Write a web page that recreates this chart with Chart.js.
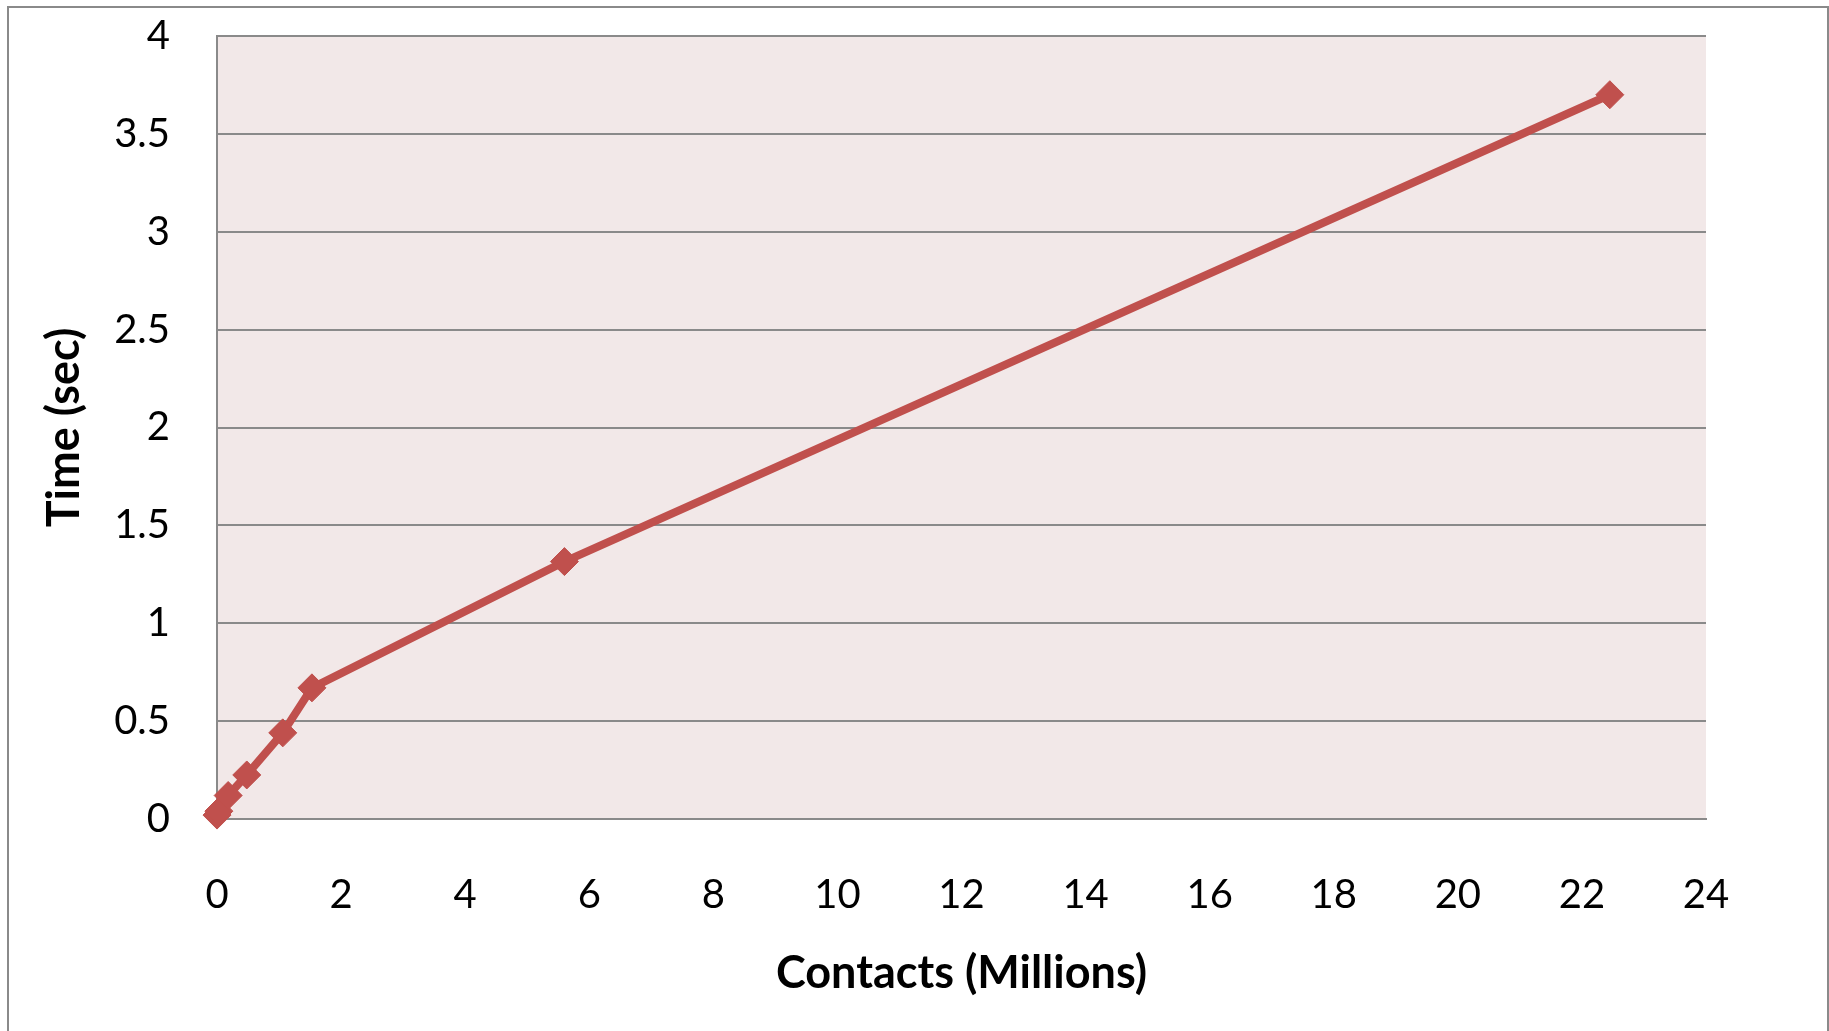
<!DOCTYPE html>
<html>
<head>
<meta charset="utf-8">
<script src="https://cdn.jsdelivr.net/npm/chart.js@4"></script>
<style>
  body { margin: 0; background: #fff; }
  #chart { display: block; }
</style>
</head>
<body>
<canvas id="chart" width="1829" height="1031"></canvas>
<script>
const contactsMillions = [0, 0.03, 0.18, 0.48, 1.06, 1.53, 5.6, 22.45];
const timeSec = [0.02, 0.04, 0.12, 0.225, 0.44, 0.67, 1.315, 3.70];
const xTicks = [0, 24, 2];
const yTicks = [0, 4, 0.5];

const gray = '#8a8a8a';
const red = '#C0504D';

const frame = {
    id: 'frame',
    beforeDraw: (chart) => {
        const c = chart.ctx;
        const a = chart.chartArea;
        c.save();
        c.fillStyle = '#fff';
        c.fillRect(0, 0, chart.width, chart.height);
        c.strokeStyle = gray;
        c.lineWidth = 2;
        c.strokeRect(8, 7, 1820, 1100);
        c.fillStyle = '#F2E8E8';
        c.fillRect(a.left, a.top, a.right - a.left, a.bottom - a.top);
        c.restore();
    }
};

var ctx = document.querySelector('#chart').getContext('2d');
var chart = new Chart(ctx, {
    type: 'line',
    data: {
        datasets: [{
            label: 'Time',
            data: contactsMillions.map((x, i) => ({ x: x, y: timeSec[i] })),
            borderColor: red,
            backgroundColor: red,
            borderWidth: 8,
            pointStyle: 'rectRot',
            pointRadius: 14,
            pointBorderWidth: 1,
            pointBorderColor: red,
            pointBackgroundColor: red,
            tension: 0,
            clip: false
        }]
    },
    options: {
        responsive: false,
        animation: false,
        layout: { padding: { left: 0, top: 36, right: 123, bottom: 0 } },
        plugins: {
            legend: { display: false },
            tooltip: { enabled: false }
        },
        scales: {
            x: {
                type: 'linear',
                min: xTicks[0],
                max: xTicks[1],
                afterFit: (s) => { s.height = 212; s.paddingLeft = 0; s.paddingRight = 0; },
                grid: { display: false, drawTicks: false },
                border: { display: true, color: gray, width: 2 },
                ticks: {
                    stepSize: xTicks[2],
                    padding: 52,
                    color: '#000',
                    font: { family: 'Lato', size: 40 }
                },
                title: {
                    display: true,
                    text: 'Contacts (Millions)',
                    color: '#000',
                    font: { family: 'Lato', size: 45, weight: 'bold' },
                    padding: { top: 0, bottom: 31 }
                }
            },
            y: {
                min: yTicks[0],
                max: yTicks[1],
                afterFit: (s) => { s.width = 217; s.paddingTop = 0; s.paddingBottom = 0; },
                grid: { color: gray, lineWidth: 2, drawTicks: false },
                border: { display: true, color: gray, width: 2 },
                ticks: {
                    stepSize: yTicks[2],
                    padding: 47,
                    color: '#000',
                    font: { family: 'Lato', size: 40 },
                    callback: (v) => String(v)
                },
                title: {
                    display: true,
                    text: 'Time (sec)',
                    color: '#000',
                    font: { family: 'Lato', size: 45, weight: 'bold' },
                    padding: { top: 37, bottom: 0 }
                }
            }
        }
    },
    plugins: [frame]
});
</script>
</body>
</html>
